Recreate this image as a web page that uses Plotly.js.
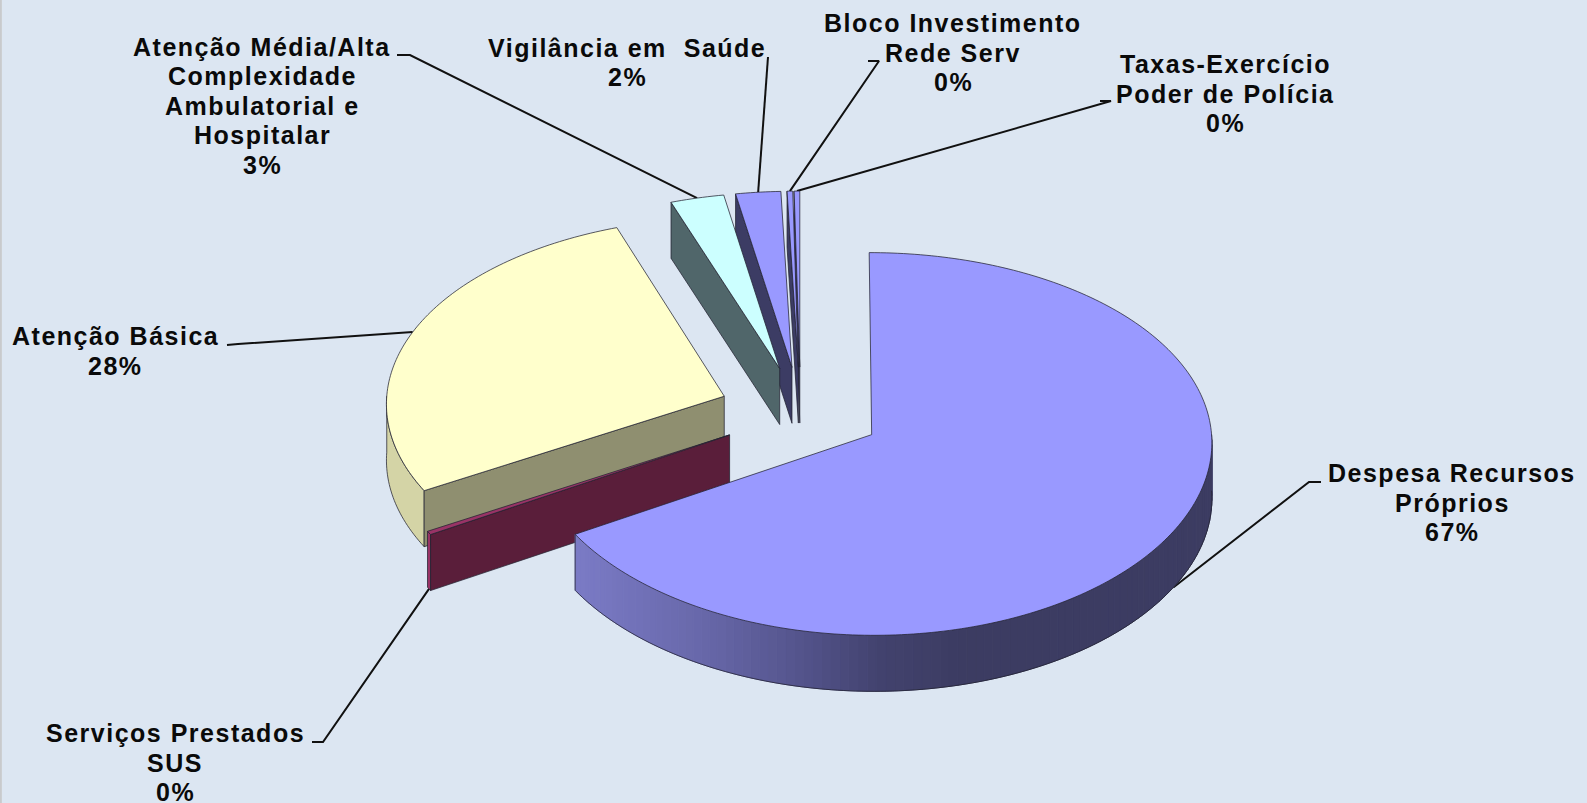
<!DOCTYPE html>
<html><head><meta charset="utf-8">
<script src="https://cdn.plot.ly/plotly-3.0.1.min.js"></script>
<style>html,body{margin:0;padding:0;background:#dce6f2}
.annotation-text{letter-spacing:1.5px}</style>
</head><body><div id="chart" style="width:1587px;height:803px"></div>
<script>
// data, clockwise from 12 o'clock
const categories = ["Despesa Recursos Próprios","Serviços Prestados SUS","Atenção Básica","Atenção Média/Alta Complexidade Ambulatorial e Hospitalar","Vigilância em Saúde","Bloco Investimento Rede Serv","Taxas-Exercício Poder de Polícia"];
const values = [66.5,0.3,27.73,2.67,2.24,0.28,0.28];
const labelLines = [["Despesa Recursos","Próprios"],["Serviços Prestados","SUS"],["Atenção Básica"],["Atenção Média/Alta","Complexidade","Ambulatorial e","Hospitalar"],["Vigilância em  Saúde"],["Bloco Investimento","Rede Serv"],["Taxas-Exercício","Poder de Polícia"]];
// styles
const topColors = ["#9999ff","#993366","#ffffcc","#ccffff","#9999ff","#9999ff","#9999ff"];
const wallColors = ["#3c3c64","#5a1e3a","#8f8f70","#50666a","#3c3c64","#3c3c64","#3c3c64"];
const rimColors = ["#3c3c64","#993366","#d4d4a6","#50666a","#3c3c64","#3c3c64","#3c3c64"];
const rimStops = [[575,[123,123,198]],[700,[104,104,170]],[800,[84,84,140]],[880,[66,66,110]],[960,[60,60,98]],[1300,[60,60,98]]];
// layout of the labels: first-line centre and leader elbow in pixels
const labelX = [1452,175,115,262,627,953,1225];
const labelY = [473,733,336,46.5,47.5,23,64];
const leaderElbow = [[[1321,482],[1309,482]],[[312,742],[323,742]],[[227,345],[238,344]],[[397,55],[410,55]],[[768,57],[768,57]],[[868,61],[879,61]],[[1100,101],[1111,101]]];
const leaderDrop = [1,1,0,0,0,0,0];
const lineStep = 29.6;
// projection of the tilted pie
const C = {x:800.5,y:412,a:338.5,b:188.7,k:0.0483,m:0.035,depth:56,explode:0.241};
const rad = d=>d*Math.PI/180;
function proj(X,Y,drop){return [C.x+C.a*X*(1-C.m*Y), C.y-C.b*Y/(1+C.k*Y)+(drop?C.depth:0)];}
const total = values.reduce((s,v)=>s+v,0);
const traces=[];
function poly(pts,fill,line,width){
  traces.push({type:'scatter',mode:'lines',x:pts.map(p=>p[0]),y:pts.map(p=>p[1]),fill:fill?'toself':'none',fillcolor:fill||undefined,
    line:{color:line,width:width,simplify:false},hoverinfo:'skip',showlegend:false});
}
const edge='rgba(35,35,50,0.75)';
let a=0; const slices=values.map((v,i)=>{const s=a; a+=v/total*360; const m=(s+a)/2;
  return {i,start:s,end:a,ox:C.explode*Math.sin(rad(m)),oy:C.explode*Math.cos(rad(m)),mid:m};});
function pt(s,t,drop,r){r=(r===undefined)?1:r;return proj(s.ox+r*Math.sin(rad(t)),s.oy+r*Math.cos(rad(t)),drop);}
// leaders, underneath the pie
slices.forEach(s=>{
  const e=pt(s,s.mid,leaderDrop[s.i]);
  const [p,q]=leaderElbow[s.i];
  poly([p,q,e],null,'#111',2);
});
function colorAt(x){
  for(let j=0;j<rimStops.length-1;j++){const [x0,c0]=rimStops[j],[x1,c1]=rimStops[j+1];
    if(x<=x1){const f=Math.max(0,(x-x0)/(x1-x0));return 'rgb('+c0.map((c,n)=>Math.round(c+(c1[n]-c)*f)).join(',')+')';}}
  return 'rgb(60,60,98)';
}
// back to front
[6,5,4,3,2,1,0].forEach(i=>{
  const s=slices[i], steps=[];
  const n=Math.max(2,Math.ceil(s.end-s.start));
  for(let j=0;j<=n;j++) steps.push(s.start+(s.end-s.start)*j/n);
  const lo=Math.max(s.start,90), hi=Math.min(s.end,270);
  if(hi>lo){
    if(i===0){
      const N=100;
      for(let j=0;j<N;j++){
        const t0=lo+(hi-lo)*j/N,t1=lo+(hi-lo)*(j+1)/N;
        const A=pt(s,t0,0),B=pt(s,t1,0),D=pt(s,t1,1),E=pt(s,t0,1);
        const col=colorAt((A[0]+B[0])/2);
        poly([A,B,D,E,A],col,col,1);
      }
      const arc=[];for(let t=lo;t<=hi;t+=1)arc.push(pt(s,t,1));arc.push(pt(s,hi,1));arc.push(pt(s,hi,0));
      poly(arc,null,edge,1);
    } else {
      const up=[],dn=[];const m=Math.max(2,Math.ceil(hi-lo));
      for(let j=0;j<=m;j++){const t=lo+(hi-lo)*j/m;up.push(pt(s,t,0));dn.unshift(pt(s,t,1));}
      const ring=up.concat(dn);ring.push(up[0]);
      poly(ring,rimColors[i],edge,1);
    }
  }
  if(i!==0){
    const w=[proj(s.ox,s.oy,0),pt(s,s.start,0),pt(s,s.start,1),proj(s.ox,s.oy,1),proj(s.ox,s.oy,0)];
    poly(w,wallColors[i],edge,1);
  }
  const face=[proj(s.ox,s.oy,0)];
  steps.forEach(t=>face.push(pt(s,t,0)));
  face.push(proj(s.ox,s.oy,0));
  poly(face,topColors[i],edge,1);
});
const annotations=[];
function addLine(text,x,y){annotations.push({text:text,x:x,y:y,xref:'x',yref:'y',xanchor:'center',yanchor:'middle',showarrow:false,
  font:{family:'Liberation Sans, Arial, sans-serif',size:25,weight:700,color:'#0a0a0a'}});}
values.forEach((v,i)=>{
  const ls=labelLines[i].concat([Math.round(v/total*100)+'%']);
  ls.forEach((t,n)=>addLine(t,labelX[i],labelY[i]+n*lineStep));
});
Plotly.newPlot('chart',traces,{
  width:1587,height:803,margin:{l:0,r:0,t:0,b:0},paper_bgcolor:'#dce6f2',plot_bgcolor:'#dce6f2',showlegend:false,
  xaxis:{range:[0,1587],visible:false,fixedrange:true},
  yaxis:{range:[803,0],visible:false,fixedrange:true},
  annotations:annotations,
  shapes:[{type:'line',xref:'paper',yref:'paper',x0:0.0006,x1:0.0006,y0:0,y1:1,line:{color:'#c4c4c4',width:1.5}}]
},{staticPlot:true,displayModeBar:false});
</script></body></html>
